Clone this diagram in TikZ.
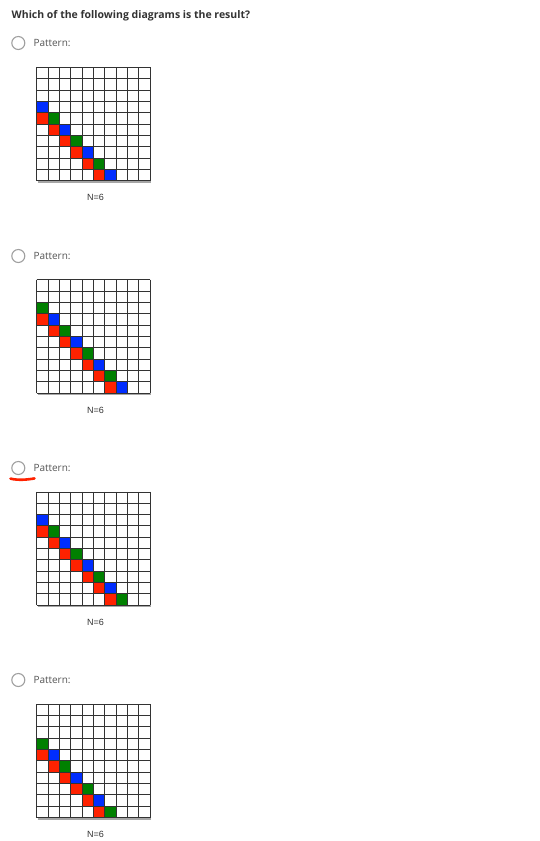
\documentclass[tikz,border=0pt]{standalone}
\usepackage{fontspec}
\newfontfamily\osans{Open Sans}
\newfontfamily\lsans{Liberation Sans}
\definecolor{cblue}{RGB}{0,45,255}
\definecolor{cred}{RGB}{255,34,0}
\definecolor{cgreen}{RGB}{0,128,0}
\definecolor{txt}{RGB}{51,51,51}
\definecolor{ptxt}{RGB}{85,85,85}
\definecolor{radio}{RGB}{160,160,160}
\tikzset{
  title/.style={anchor=west, inner sep=0pt, font=\osans\bfseries\fontsize{10.5}{12}\selectfont, text=txt},
  pattxt/.style={anchor=west, inner sep=0pt, font=\osans\fontsize{10}{12}\selectfont, text=ptxt},
  radiobtn/.style={circle, draw=radio, line width=1.1pt, minimum size=13pt, inner sep=0pt},
  nlabel/.style={inner sep=0pt, font=\lsans\fontsize{9}{10}\selectfont, text=txt},
  gridline/.style={draw=black!80, line width=0.8pt},
  shadow/.style={fill=black!35},
}
\newcommand{\cellsz}{11.33}
% #1 = top y, #2 = r0, #3 = c0, #4 = c1, #5 = index
\newcommand{\patgrid}[5]{%
  \begin{scope}[shift={(36.7,#1)}]
    \fill[shadow] (1,2) rectangle (113.3+1,113.3+2);
    \fill[white] (0,0) rectangle (113.3,113.3);
    \pgfmathtruncatemacro{\lastd}{9-#2}
    \foreach \j in {0,...,\lastd}{
      \pgfmathtruncatemacro{\parity}{mod(\j,2)}
      \ifnum\parity=0 \def\cc{#3}\else\def\cc{#4}\fi
      \fill[\cc] (\j*\cellsz,{(#2+\j)*\cellsz}) rectangle ++(\cellsz,\cellsz);
    }
    \pgfmathtruncatemacro{\lastr}{8-#2}
    \foreach \j in {0,...,\lastr}{
      \fill[cred] (\j*\cellsz,{(#2+1+\j)*\cellsz}) rectangle ++(\cellsz,\cellsz);
    }
    \foreach \i in {0,...,10}{
      \draw[gridline] (\i*\cellsz,0) -- (\i*\cellsz,113.3);
      \draw[gridline] (0,\i*\cellsz) -- (113.3,\i*\cellsz);
    }
    \node[nlabel] (n#5) at (58.8,130.4) {N=6};
  \end{scope}
}
\begin{document}
\begin{tikzpicture}[x=1pt,y=-1pt]
\useasboundingbox (0,0) rectangle (539,841);
\fill[white] (0,0) rectangle (539,841);
\node[title] (title) at (11.5,16) {Which of the following diagrams is the result?};
\foreach \k/\ry in {1/43, 2/256, 3/468, 4/680}{
  \node[radiobtn] (r\k) at (18.3,\ry) {};
  \node[pattxt] (p\k) at (33.3,\ry) {Pattern:};
}
\draw[cred, line width=2.6pt, line cap=round] (10.5,478.6) .. controls (18,480.6) and (28,479.6) .. (34.5,478.4);
\patgrid{67.3}{3}{cblue}{cgreen}{1}
\patgrid{279.6}{2}{cgreen}{cblue}{2}
\patgrid{491.9}{2}{cblue}{cgreen}{3}
\patgrid{704.2}{3}{cgreen}{cblue}{4}
\end{tikzpicture}
\end{document}
